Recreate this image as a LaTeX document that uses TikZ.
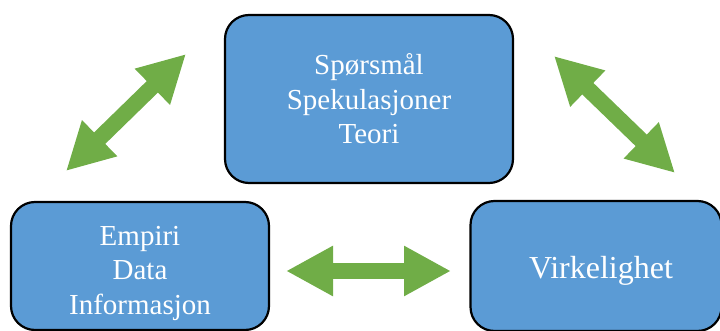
\documentclass[tikz,border=0pt]{standalone}
\usepackage{fontspec}
\setmainfont{Liberation Serif}
\usetikzlibrary{arrows.meta,positioning}
\definecolor{boxblue}{HTML}{5B9BD5}
\definecolor{arrowgreen}{HTML}{70AD47}

\begin{document}
\begin{tikzpicture}[x=1pt, y=-1pt,
  every box/.style={draw=black, line width=2.2pt, fill=boxblue, rounded corners=24pt,
    text=white, align=center, inner sep=0pt, font=\fontsize{29}{34.5}\selectfont},
  big arrow/.style={draw=arrowgreen, line width=16pt, {Triangle[length=47pt,width=47pt]}-{Triangle[length=47pt,width=47pt]}}]

\useasboundingbox (0,0) rectangle (720,331);

% the three boxes
\node [every box, minimum width=288pt, minimum height=168pt] (theory) at (369,99)
  {Spørsmål\\Spekulasjoner\\Teori};
\node [every box, minimum width=258pt, minimum height=128pt] (empiri) at (140,266)
  {\raisebox{-7pt}[\height][\depth]{\parbox{200pt}{\centering Empiri\\Data\\Informasjon}}};
\node [every box, minimum width=251pt, minimum height=130pt, font=\fontsize{32}{38}\selectfont] (reality) at (596,266)
  {\hspace*{10pt}\raisebox{-5pt}[\height][\depth]{Virkelighet}};

% arrow ends
\coordinate (ul-a) at (66,171);
\coordinate (ul-b) at (186,54);
\coordinate (mid-a) at (286,271);
\coordinate (mid-b) at (451,271);
\coordinate (ur-a) at (554,56);
\coordinate (ur-b) at (675,173);

\foreach \a/\b in {ul-a/ul-b, mid-a/mid-b, ur-a/ur-b}
  \draw [big arrow] (\a) -- (\b);

\end{tikzpicture}
\end{document}
